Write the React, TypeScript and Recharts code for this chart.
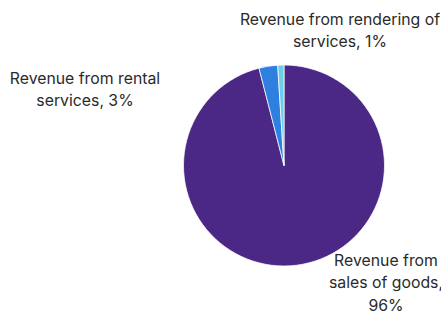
import { PieChart, Pie, Cell } from "recharts";

const CATEGORIES = [
  "Revenue from sales of goods",
  "Revenue from rental services",
  "Revenue from rendering of services",
];
const SHARES = [96, 3, 1];
const LABEL_LINES = [
  ["Revenue from", "sales of goods,", "96%"],
  ["Revenue from rental", "services, 3%"],
  ["Revenue from rendering of", "services, 1%"],
];
const COLORS = ["#4b2885", "#2f7fe1", "#6ccfe6"];

// label anchor offsets from pie centre (Excel "best fit" placement)
const LABEL_OFFSETS = [
  { dx: 102, dy: 94 },
  { dx: -199, dy: -88 },
  { dx: 56, dy: -147 },
];
const LINE_H = 22.5;

const data = CATEGORIES.map((name, i) => ({ name, value: SHARES[i] }));

function renderLabel(props: any) {
  const { cx, cy, index } = props;
  const off = LABEL_OFFSETS[index];
  const lines = LABEL_LINES[index];
  const x = cx + off.dx;
  const y0 = cy + off.dy;
  return (
    <text
      key={index}
      x={x}
      y={y0}
      textAnchor="middle"
      dominantBaseline="central"
      fill="#2a2a2a"
      fontSize={15.8}
      fontFamily="Inter, sans-serif"
    >
      {lines.map((l, j) => (
        <tspan key={j} x={x} y={y0 + j * LINE_H} dominantBaseline="central">
          {l}
        </tspan>
      ))}
    </text>
  );
}

export default function App() {
  return (
    <div style={{ position: "absolute", left: 0, top: 0, width: 441, height: 314, background: "#fff" }}>
      <PieChart width={441} height={314} margin={{ top: 0, right: 0, bottom: 0, left: 0 }}>
        <Pie
          data={data}
          dataKey="value"
          nameKey="name"
          cx={284}
          cy={165.5}
          outerRadius={100.5}
          startAngle={90}
          endAngle={-270}
          stroke="#ffffff"
          strokeWidth={0.75}
          label={renderLabel}
          labelLine={false}
          isAnimationActive={false}
        >
          {data.map((_, i) => (
            <Cell key={i} fill={COLORS[i]} />
          ))}
        </Pie>
      </PieChart>
    </div>
  );
}
